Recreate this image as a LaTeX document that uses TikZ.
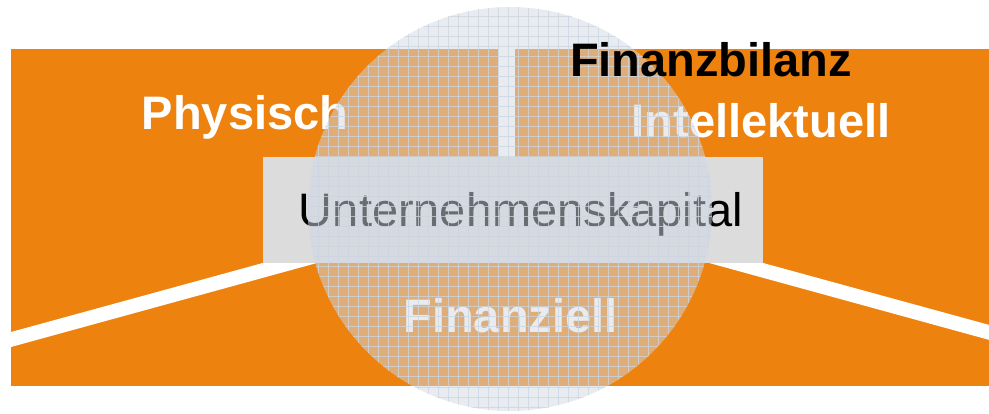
\documentclass[tikz,border=0pt]{standalone}
\usepackage{fontspec}
\setmainfont{Liberation Sans}
\definecolor{orangebg}{HTML}{ED820E}
\definecolor{boxgray}{HTML}{DCDCDC}
\definecolor{circfill}{HTML}{D2D8E2}
\definecolor{gridcol}{HTML}{CBD6E1}
\begin{document}
\begin{tikzpicture}[x=1pt,y=-1pt,
  bigbold/.style={font=\fontsize{47}{50}\selectfont\bfseries, inner sep=0pt, anchor=base},
  bigreg/.style={font=\fontsize{47}{50}\selectfont, inner sep=0pt, anchor=base},
  gridline/.style={gridcol, opacity=0.75, line width=1pt}]
\useasboundingbox (0,0) rectangle (989,414);
% orange background
\fill[orangebg] (11,49) rectangle (989,386);
% white bands and bar
\begin{scope}
  \clip (11,49) rectangle (989,386);
  \fill[white] (11,332) -- (292,255) -- (346,255) -- (11,347) -- cycle;
  \fill[white] (1015,332) -- (734,255) -- (680,255) -- (1015,347) -- cycle;
  \fill[white] (498,49) rectangle (515,158);
\end{scope}
% central box
\node[draw=none, fill=boxgray, minimum width=500pt, minimum height=106pt, inner sep=0pt] (box) at (513,210.5) {};
% texts under the overlay
\node[bigbold, text=white] (phys) at (245,130) {Physisch};
\node[bigbold, text=white] (intel) at (761,138) {Intellektuell};
\node[bigbold, text=white] (finz) at (510.5,333) {Finanziell};
\node[bigreg, text=black] (uk) at (521,227) {Unternehmenskapital};
% translucent circle with grid texture
\begin{scope}
  \fill[circfill, fill opacity=0.5] (510,209) circle[radius=202];
  \clip (510,209) circle[radius=202];
  \foreach \i in {0,...,41} {
    \draw[gridline] (308+\i*10,0) -- (308+\i*10,414);
  }
  \foreach \j in {0,...,41} {
    \draw[gridline] (300,7+\j*10) -- (720,7+\j*10);
  }
\end{scope}
% top text
\node[bigbold, text=black] (finb) at (711,77) {Finanzbilanz};
\end{tikzpicture}
\end{document}
